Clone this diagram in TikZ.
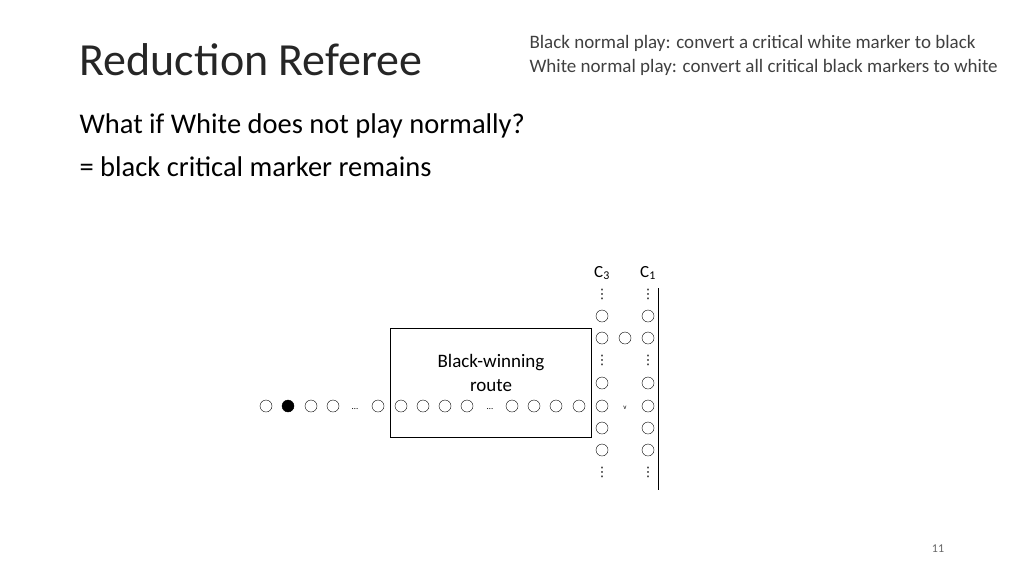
\documentclass[tikz,border=0pt]{standalone}
\usepackage{fontspec}
\setmainfont{Carlito}
\newfontfamily\symfont{DejaVu Sans}
\begin{document}
\begin{tikzpicture}[x=1pt,y=-1pt,
  mk/.style={circle,draw,inner sep=0pt,minimum size=12pt},
  bmk/.style={mk,fill=black},
  vd/.style={font=\symfont\fontsize{13}{13}\selectfont,inner sep=0pt,text height=9pt,text depth=0pt}]
\useasboundingbox (0,0) rectangle (1024,576);
%Texte
\node[anchor=west,font=\fontsize{46}{46}\selectfont,text=black!85] (title) at (76,60) {Reduction Referee};
\node[anchor=west,font=\fontsize{19}{24}\selectfont,text=black!75,align=left] (rules) at (526,55) {Black normal play: convert a critical white marker to black\\White normal play: convert all critical black markers to white};
\node[anchor=west,font=\fontsize{28.5}{28}\selectfont] (q) at (76,126) {What if White does not play normally?};
\node[anchor=west,font=\fontsize{28.5}{28}\selectfont] (a) at (76,167) {= black critical marker remains};
\node[font=\fontsize{12}{12}\selectfont,text=black!60] (page) at (938,549) {11};
%Kasten
\draw (390,328) rectangle (591,437);
\node[align=center,font=\fontsize{19}{24}\selectfont] (route) at (491,373) {Black-winning\\route};
%Zeile
\foreach \x/\n in {266/r1,311/r3,333/r4,378/r5,401/r6,423/r7,445/r8,467/r9,512/r10,534/r11,556/r12,579/r13}
  \node[mk] (\n) at (\x,406) {};
\node[bmk] (r2) at (288,406) {};
\node (d1) at (355,409) {\small\ldots};
\node (d2) at (490,409) {\small\ldots};
%Spalten
\foreach \c/\x in {a/602,b/648}{
  \foreach \y/\i in {316/1,338/2,383/3,406/4,428/5,450/6}
    \node[mk] (\c\i) at (\x,\y) {};
  \foreach \y/\i in {294/1,360/2,472/3}
    \node[vd] (\c d\i) at (\x,\y) {⋮};
}
\node[mk] (m) at (625,338) {};
\node[font=\scriptsize] (v) at (625,408) {v};
\node[font=\fontsize{17}{17}\selectfont] (c3) at (602,273) {C\textsubscript{3}};
\node[font=\fontsize{17}{17}\selectfont] (c1) at (648,273) {C\textsubscript{1}};
\draw (658,288) -- (658,490);
\end{tikzpicture}
\end{document}
